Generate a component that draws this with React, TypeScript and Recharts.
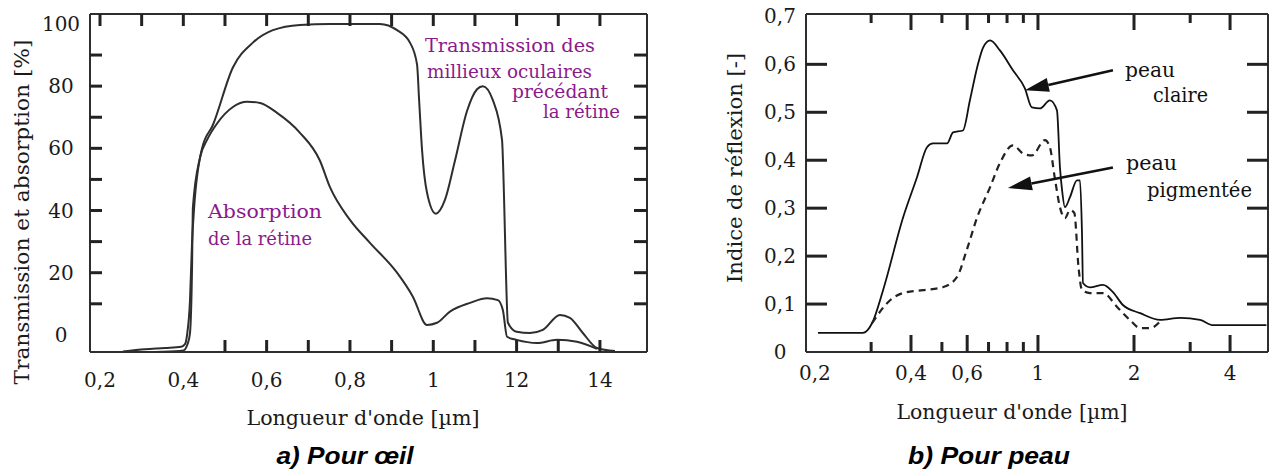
import React from 'react'
import { LineChart, Line, XAxis, YAxis, ReferenceLine } from 'recharts'

const SERIF = '"DejaVu Serif", serif'
const SANS = '"Liberation Sans", Arial, sans-serif'
const INK = '#2e2e2e'
const TICK = '#222'
const PURPLE = '#8b1a8b'

// a) Pour oeil  (wavelength in µm, percent)
const eyeTransWl = [0.255, 0.308, 0.356, 0.395, 0.404, 0.409, 0.416, 0.421, 0.426, 0.445, 0.471, 0.519, 0.567, 0.615, 0.68, 0.752, 0.807, 0.872, 0.913, 0.944, 0.961, 0.966, 0.973, 0.985, 1.006, 1.028, 1.052, 1.081, 1.105, 1.119, 1.143, 1.165, 1.17, 1.174, 1.179, 1.2, 1.232, 1.263, 1.304, 1.328, 1.359, 1.393, 1.436]
const eyeTransVal = [-5.3, -4.6, -4.2, -3.8, -3.0, 0, 11, 30, 41, 60, 67.5, 86, 94, 98, 99.7, 100, 100, 100, 98, 94, 87, 75.5, 59.5, 45.7, 39, 43.4, 56, 72, 79, 80, 75.5, 62.7, 43.4, 22, 4, 1, 0.6, 1.6, 6.4, 5.5, 0.6, -4.2, -5.2]
const eyeAbsWl = [0.255, 0.35, 0.4, 0.41, 0.416, 0.421, 0.423, 0.44, 0.457, 0.481, 0.519, 0.553, 0.584, 0.625, 0.68, 0.728, 0.752, 0.8, 0.848, 0.913, 0.951, 0.985, 1.009, 1.04, 1.088, 1.129, 1.155, 1.167, 1.177, 1.2, 1.249, 1.297, 1.345, 1.393]
const eyeAbsVal = [-5.6, -5.4, -5.0, -3, 0.6, 22, 41, 57, 62.7, 68, 73.3, 75, 74.6, 71.4, 65, 56, 47.5, 37, 29.6, 20, 12.3, 3.2, 3.9, 7.5, 10.3, 11.8, 11.2, 8, -0.6, -1.6, -2.6, -1.6, -2.2, -4.5]
const eyeXDomain = [0.176, 1.513]
const eyeYDomain = [-5.5, 103.2]
const eyeXTicks = [0.2, 0.3, 0.4, 0.5, 0.6, 0.7, 0.8, 0.9, 1, 1.1, 1.2, 1.3, 1.4]
const eyeXLabelAt = [0.2, 0.4, 0.6, 0.8, 1, 1.2, 1.4]
const eyeXLabels = ['0,2', '0,4', '0,6', '0,8', '1', '12', '14']
const eyeYTicks = [10, 20, 30, 40, 50, 60, 70, 80, 90]
const eyeYLabelAt = [0, 20, 40, 60, 80, 100]
const eyeYLabels = ['0', '20', '40', '60', '80', '100']

// b) Pour peau  (wavelength in µm, log axis; reflection index)
const clairWl = [0.2044, 0.2828, 0.302, 0.327, 0.378, 0.418, 0.449, 0.469, 0.519, 0.542, 0.582, 0.612, 0.645, 0.673, 0.708, 0.76, 0.835, 0.91, 0.957, 1.015, 1.09, 1.147, 1.172, 1.19, 1.215, 1.26, 1.325, 1.354, 1.374, 1.384, 1.455, 1.6, 1.718, 1.846, 2.09, 2.415, 2.79, 3.22, 3.54, 3.92, 5.2]
const clairVal = [0.04, 0.04, 0.06, 0.129, 0.281, 0.365, 0.427, 0.435, 0.435, 0.458, 0.462, 0.525, 0.594, 0.635, 0.65, 0.629, 0.5875, 0.55, 0.51, 0.508, 0.525, 0.504, 0.385, 0.3375, 0.302, 0.323, 0.358, 0.358, 0.248, 0.144, 0.135, 0.14, 0.125, 0.098, 0.081, 0.067, 0.071, 0.067, 0.056, 0.056, 0.056]
const pigWl = [0.302, 0.344, 0.378, 0.436, 0.503, 0.557, 0.598, 0.645, 0.708, 0.76, 0.835, 0.898, 0.957, 1.052, 1.09, 1.128, 1.172, 1.215, 1.26, 1.3, 1.34, 1.374, 1.455, 1.6, 1.77, 1.94, 2.09, 2.25, 2.44]
const pigVal = [0.06, 0.108, 0.123, 0.129, 0.135, 0.156, 0.2125, 0.281, 0.344, 0.394, 0.431, 0.414, 0.41, 0.442, 0.427, 0.365, 0.302, 0.279, 0.296, 0.29, 0.177, 0.129, 0.123, 0.123, 0.094, 0.067, 0.05, 0.05, 0.067]
const skinXDomain = [0.1875, 5.26]
const skinYDomain = [0, 0.705]
const skinXLong = [0.4, 0.6, 1, 2, 4]
const skinXShort = [0.3, 0.5, 0.7, 0.8, 0.9, 3]
const skinXLabelAt = [0.2, 0.4, 0.6, 1, 2, 4]
const skinXLabels = ['0,2', '0,4', '0,6', '1', '2', '4']
const skinYLabelAt = [0, 0.1, 0.2, 0.3, 0.4, 0.5, 0.6, 0.7]
const skinYLabels = ['0', '0,1', '0,2', '0,3', '0,4', '0,5', '0,6', '0,7']
const skinYTicks = [0.1, 0.2, 0.3, 0.4, 0.5, 0.6]

// arrows: [tail, tip] in data units
const arrowClaire = [{ x: 1.718, y: 0.5875 }, { x: 0.91, y: 0.546 }]
const arrowPig = [{ x: 1.718, y: 0.385 }, { x: 0.805, y: 0.342 }]

// plot boxes (page px) that follow from the chart sizes and margins below
const EYE_BOX = { left: 90, right: 647, top: 14, bottom: 352 }
const SKIN_BOX = { left: 806, right: 1268, top: 14, bottom: 352 }

const pairs = (xs: number[], ys: number[]) => xs.map((x, i) => ({ x, y: ys[i] }))
const labelOf = (v: number, at: number[], labels: string[]) => {
  const i = at.findIndex((a) => Math.abs(a - v) < 1e-9)
  return i >= 0 ? labels[i] : ''
}

// same mapping as the axes, used for the inward tick marks on the frame
const eyeX = (v: number) => EYE_BOX.left + ((v - eyeXDomain[0]) / (eyeXDomain[1] - eyeXDomain[0])) * (EYE_BOX.right - EYE_BOX.left)
const eyeY = (v: number) => EYE_BOX.bottom - ((v - eyeYDomain[0]) / (eyeYDomain[1] - eyeYDomain[0])) * (EYE_BOX.bottom - EYE_BOX.top)
const skinX = (v: number) => SKIN_BOX.left + (Math.log10(v / skinXDomain[0]) / Math.log10(skinXDomain[1] / skinXDomain[0])) * (SKIN_BOX.right - SKIN_BOX.left)
const skinY = (v: number) => SKIN_BOX.bottom - ((v - skinYDomain[0]) / (skinYDomain[1] - skinYDomain[0])) * (SKIN_BOX.bottom - SKIN_BOX.top)

const labelTick = (at: number[], labels: string[]) => (p: any) => {
  const txt = labelOf(p.payload.value, at, labels)
  if (!txt) return <g />
  return (
    <text x={p.x} y={p.y} textAnchor="middle" dominantBaseline="central" fontFamily={SERIF} fontSize={20} fill="#1a1a1a">
      {txt}
    </text>
  )
}

const Arrow = (p: any) => {
  const { x1, y1, x2, y2 } = p
  const dx = x2 - x1
  const dy = y2 - y1
  const d = Math.hypot(dx, dy) || 1
  const ux = dx / d
  const uy = dy / d
  const bx = x2 - ux * 24
  const by = y2 - uy * 24
  return (
    <g>
      <line x1={x1} y1={y1} x2={bx} y2={by} stroke="#111" strokeWidth={2.5} />
      <polygon points={`${x2},${y2} ${bx - uy * 7},${by + ux * 7} ${bx + uy * 7},${by - ux * 7}`} fill="#111" />
    </g>
  )
}

const axisLine = { stroke: INK, strokeWidth: 2 }

function EyeChart() {
  return (
    <LineChart width={660} height={473} margin={{ top: 4, right: 3, bottom: 91, left: 50 }}>
      <XAxis xAxisId="b" dataKey="x" type="number" domain={eyeXDomain} allowDataOverflow ticks={eyeXLabelAt} interval={0}
        height={30} tickSize={0} tickMargin={28} tickLine={false} axisLine={axisLine} tick={labelTick(eyeXLabelAt, eyeXLabels)} />
      <XAxis xAxisId="t" orientation="top" dataKey="x" type="number" domain={eyeXDomain} allowDataOverflow ticks={eyeXTicks}
        height={10} tickLine={false} tick={false} axisLine={axisLine} />
      <YAxis yAxisId="l" type="number" domain={eyeYDomain} allowDataOverflow ticks={eyeYLabelAt} interval={0}
        width={40} tickSize={0} tickMargin={29} tickLine={false} axisLine={axisLine} tick={labelTick(eyeYLabelAt, eyeYLabels)} />
      <YAxis yAxisId="r" orientation="right" type="number" domain={eyeYDomain} allowDataOverflow ticks={eyeYTicks}
        width={10} tickLine={false} tick={false} axisLine={axisLine} />
      <Line xAxisId="b" yAxisId="l" data={pairs(eyeTransWl, eyeTransVal)} dataKey="y" type="monotone" stroke={INK} strokeWidth={2} dot={false} isAnimationActive={false} />
      <Line xAxisId="b" yAxisId="l" data={pairs(eyeAbsWl, eyeAbsVal)} dataKey="y" type="monotone" stroke={INK} strokeWidth={2} dot={false} isAnimationActive={false} />
    </LineChart>
  )
}

function SkinChart() {
  return (
    <LineChart width={579} height={473} margin={{ top: 4, right: 0, bottom: 91, left: 76 }}>
      <XAxis xAxisId="b" dataKey="x" type="number" scale="log" domain={skinXDomain} allowDataOverflow ticks={skinXLabelAt} interval={0}
        height={30} tickSize={0} tickMargin={21} tickLine={false} axisLine={axisLine} tick={labelTick(skinXLabelAt, skinXLabels)} />
      <XAxis xAxisId="t" orientation="top" dataKey="x" type="number" scale="log" domain={skinXDomain} allowDataOverflow ticks={skinXLong}
        height={10} tickLine={false} tick={false} axisLine={axisLine} />
      <YAxis yAxisId="l" type="number" domain={skinYDomain} allowDataOverflow ticks={skinYLabelAt} interval={0}
        width={40} tickSize={0} tickMargin={26} tickLine={false} axisLine={axisLine} tick={labelTick(skinYLabelAt, skinYLabels)} />
      <YAxis yAxisId="r" orientation="right" type="number" domain={skinYDomain} allowDataOverflow ticks={skinYTicks}
        width={1} tickLine={false} tick={false} axisLine={axisLine} />
      <Line xAxisId="b" yAxisId="l" data={pairs(clairWl, clairVal)} dataKey="y" type="monotone" stroke="#111" strokeWidth={1.8} dot={false} isAnimationActive={false} />
      <Line xAxisId="b" yAxisId="l" data={pairs(pigWl, pigVal)} dataKey="y" type="monotone" stroke="#222" strokeWidth={2.2} strokeDasharray="7 5" dot={false} isAnimationActive={false} />
      <ReferenceLine xAxisId="b" yAxisId="l" segment={arrowClaire} shape={(p: any) => <Arrow {...p} />} />
      <ReferenceLine xAxisId="b" yAxisId="l" segment={arrowPig} shape={(p: any) => <Arrow {...p} />} />
    </LineChart>
  )
}

const T = (props: any) => <text fontFamily={SERIF} lengthAdjust="spacingAndGlyphs" {...props} />

function FrameTicks() {
  const v = (x: number, y: number, len: number, k: string) => <line key={k} x1={x} y1={y} x2={x} y2={y + len} stroke={TICK} strokeWidth={3} />
  const h = (x: number, y: number, len: number, k: string) => <line key={k} x1={x} y1={y} x2={x + len} y2={y} stroke={TICK} strokeWidth={3} />
  return (
    <g>
      {eyeXTicks.filter((t) => t >= 0.45).map((t, i) => v(eyeX(t), EYE_BOX.bottom, -12, `eb${i}`))}
      {eyeXTicks.map((t, i) => v(eyeX(t), EYE_BOX.top, 12, `et${i}`))}
      {eyeYTicks.map((t, i) => h(EYE_BOX.left, eyeY(t), 12, `el${i}`))}
      {eyeYTicks.map((t, i) => h(EYE_BOX.right, eyeY(t), -13, `er${i}`))}
      {skinXLong.map((t, i) => v(skinX(t), SKIN_BOX.bottom, -17, `sbl${i}`))}
      {skinXShort.map((t, i) => v(skinX(t), SKIN_BOX.bottom, -10, `sbs${i}`))}
      {skinXLong.map((t, i) => v(skinX(t), SKIN_BOX.top, 16, `stl${i}`))}
      {skinXShort.map((t, i) => v(skinX(t), SKIN_BOX.top, 9, `sts${i}`))}
      {skinYTicks.map((t, i) => h(SKIN_BOX.left, skinY(t), 21, `sl${i}`))}
      {skinYTicks.map((t, i) => h(SKIN_BOX.right, skinY(t), -21, `sr${i}`))}
    </g>
  )
}

export default function App() {
  return (
    <div style={{ position: 'absolute', left: 0, top: 0, width: 1269, height: 473, background: '#fff' }}>
      <div style={{ position: 'absolute', left: 0, top: 0 }}>
        <EyeChart />
      </div>
      <div style={{ position: 'absolute', left: 690, top: 0 }}>
        <SkinChart />
      </div>
      <svg width={1269} height={473} style={{ position: 'absolute', left: 0, top: 0, pointerEvents: 'none' }}>
        <FrameTicks />
        <T x={0} y={0} fontSize={21} fill="#1a1a1a" textLength={345} textAnchor="middle" dominantBaseline="central"
          transform="translate(22,212) rotate(-90)">Transmission et absorption [%]</T>
        <T x={363} y={425} fontSize={20.5} fill="#1a1a1a" textLength={233} textAnchor="middle">Longueur d'onde [µm]</T>
        <T x={425} y={52} fontSize={18.5} fill={PURPLE} textLength={170}>Transmission des</T>
        <T x={427} y={78} fontSize={18.5} fill={PURPLE} textLength={165}>millieux oculaires</T>
        <T x={512} y={98} fontSize={18.5} fill={PURPLE} textLength={96}>précédant</T>
        <T x={543} y={118} fontSize={18.5} fill={PURPLE} textLength={77}>la rétine</T>
        <T x={208} y={218} fontSize={18.5} fill={PURPLE} textLength={114}>Absorption</T>
        <T x={208} y={245} fontSize={18.5} fill={PURPLE} textLength={104}>de la rétine</T>

        <T x={0} y={0} fontSize={21} fill="#1a1a1a" textLength={230} textAnchor="middle" dominantBaseline="central"
          transform="translate(735,168) rotate(-90)">Indice de réflexion [-]</T>
        <T x={1012} y={419} fontSize={20.5} fill="#1a1a1a" textLength={231} textAnchor="middle">Longueur d'onde [µm]</T>
        <T x={1125} y={77} fontSize={20} fill="#111" textLength={50}>peau</T>
        <T x={1153} y={102} fontSize={20} fill="#111" textLength={55}>claire</T>
        <T x={1126} y={170} fontSize={20} fill="#111" textLength={51}>peau</T>
        <T x={1147} y={197} fontSize={20} fill="#111" textLength={105}>pigmentée</T>

        <text x={345} y={464} fontFamily={SANS} fontWeight="bold" fontStyle="italic" fontSize={23} fill="#000"
          textAnchor="middle" textLength={137} lengthAdjust="spacingAndGlyphs">a) Pour œil</text>
        <text x={989} y={464} fontFamily={SANS} fontWeight="bold" fontStyle="italic" fontSize={23} fill="#000"
          textAnchor="middle" textLength={162} lengthAdjust="spacingAndGlyphs">b) Pour peau</text>
      </svg>
    </div>
  )
}
